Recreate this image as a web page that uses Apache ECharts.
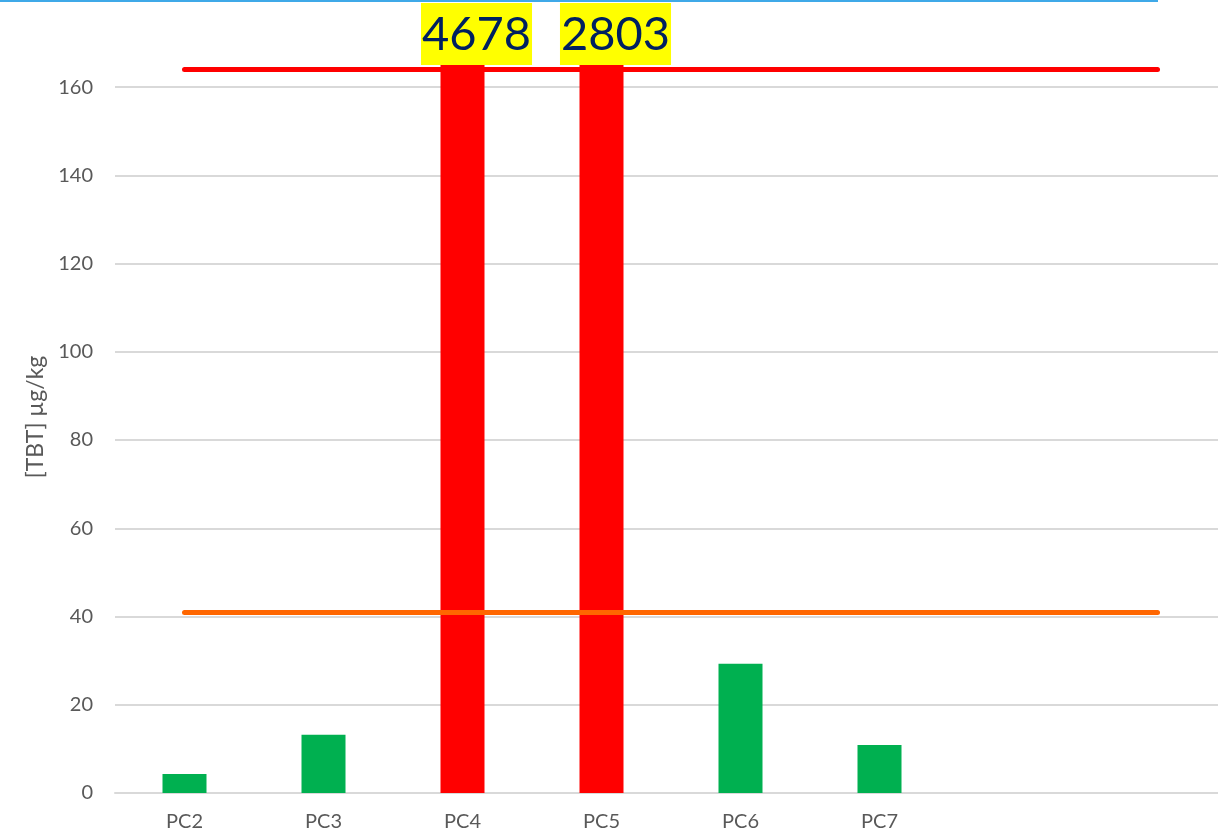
<!DOCTYPE html>
<html>
<head>
<meta charset="utf-8">
<script src="https://cdn.jsdelivr.net/npm/echarts@6/dist/echarts.min.js"></script>
<style>
  html, body { margin: 0; padding: 0; background: #fff; }
  #chart { width: 1218px; height: 836px; }
</style>
</head>
<body>
<div id="chart"></div>
<script>
// 采样点
var categories = ['PC2', 'PC3', 'PC4', 'PC5', 'PC6', 'PC7', '', ''];
// TBT 浓度 µg/kg
var tbtValues = [4.3, 13.2, 4678, 2803, 29.3, 10.9];
// 阈值线
var upperLimit = 164;
var lowerLimit = 41;
var yTicks = { min: 0, max: 165, interval: 20 };

var dom = document.getElementById('chart');
var myChart = echarts.init(dom);

var barData = tbtValues.map(function (v) {
    var over = v > upperLimit;
    return {
        value: v,
        itemStyle: { color: over ? '#ff0000' : '#00b050' },
        label: { show: over }
    };
});

var lastIdx = categories.length - 1;

myChart.setOption({
    animation: false,
    graphic: [{
        type: 'rect',
        left: 0,
        top: 0,
        shape: { width: 1158, height: 2 },
        style: { fill: '#3fa9e8' }
    }],
    grid: {
        left: 115,
        top: 65,
        width: 1112,
        bottom: 43,
        outerBoundsMode: 'none',
        containLabel: false
    },
    xAxis: {
        type: 'category',
        data: categories,
        axisLine: { lineStyle: { color: '#d9d9d9', width: 2 } },
        axisTick: { show: false },
        axisLabel: {
            color: '#595959',
            fontSize: 20,
            fontFamily: 'Lato',
            margin: 19
        }
    },
    yAxis: {
        type: 'value',
        min: yTicks.min,
        max: yTicks.max,
        interval: yTicks.interval,
        name: '[TBT] µg/kg',
        nameLocation: 'middle',
        nameGap: 68,
        nameTextStyle: {
            color: '#595959',
            fontSize: 23,
            fontFamily: 'Lato',
            padding: [0, 0, 0, 24]
        },
        axisLine: { show: false },
        axisTick: { show: false },
        axisLabel: {
            color: '#595959',
            fontSize: 20,
            fontFamily: 'Lato',
            margin: 22,
            showMaxLabel: false
        },
        splitLine: {
            showMaxLine: false,
            lineStyle: { color: '#d9d9d9', width: 2 }
        }
    },
    series: [
        {
            type: 'bar',
            barWidth: 44,
            clip: true,
            data: barData,
            label: {
                position: 'top',
                distance: 0,
                offset: [14, 0],
                color: '#002060',
                fontSize: 47,
                fontFamily: 'Lato',
                backgroundColor: '#ffff00',
                padding: [3, 1, 1, 1],
                lineHeight: 58
            },
            z: 2
        },
        {
            type: 'line',
            data: [],
            z: 5,
            markLine: {
                silent: true,
                symbol: 'none',
                label: { show: false },
                data: [
                    [
                        { coord: [0, upperLimit], lineStyle: { color: '#ff0000', width: 5, cap: 'round', type: 'solid' } },
                        { coord: [lastIdx, upperLimit] }
                    ],
                    [
                        { coord: [0, lowerLimit], lineStyle: { color: '#ff6600', width: 5, cap: 'round', type: 'solid' } },
                        { coord: [lastIdx, lowerLimit] }
                    ]
                ]
            }
        }
    ]
});

window.addEventListener('resize', function () {
    myChart.resize();
});
</script>
</body>
</html>
